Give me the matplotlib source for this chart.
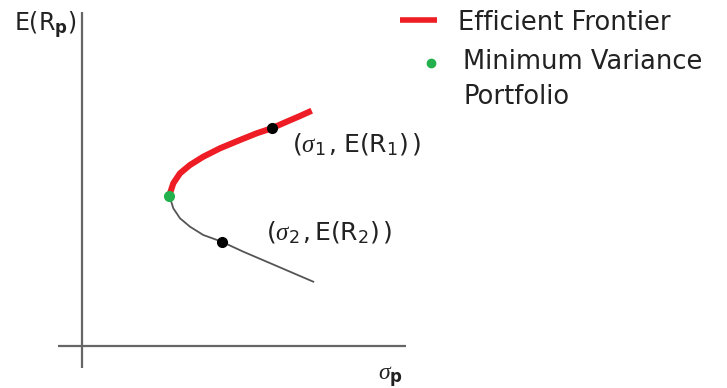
import matplotlib.pyplot as plt

plt.rcParams['font.family'] = ['DejaVu Sans']
plt.rcParams['mathtext.fontset'] = 'custom'
plt.rcParams['mathtext.rm'] = 'DejaVu Sans'
plt.rcParams['mathtext.it'] = 'Liberation Serif:italic'
plt.rcParams['mathtext.bf'] = 'DejaVu Sans:bold'

# efficient frontier (upper branch) and the inefficient lower branch
upper_sigma = [8.73, 9.13, 9.8, 10.8, 12.13, 13.8, 15.8, 17.47, 18.97, 20.47, 21.8, 22.97]
upper_ret = [15.05, 16.27, 17.27, 18.1, 18.93, 19.77, 20.6, 21.27, 21.77, 22.43, 23.0, 23.53]
lower_sigma = [8.73, 9.13, 9.8, 10.8, 12.13, 13.97, 16.13, 18.47, 20.8, 23.13]
lower_ret = [15.05, 13.77, 12.77, 11.93, 11.1, 10.43, 9.43, 8.43, 7.43, 6.43]

mvp = (8.73, 15.05)
port1 = (18.97, 21.77)
port2 = (13.97, 10.43)

RED = '#ee1c24'
GREEN = '#22b14c'
AXIS = '#666666'
TXT = '#222222'

fig = plt.figure(figsize=(7.27, 3.88), dpi=100)
ax = fig.add_axes([0, 0, 1, 1])
ax.set_xlim(-8.2, 64.5)
ax.set_ylim(-4.2, 34.6)
ax.axis('off')

# hand-drawn style axes
ax.plot([-2.4, 32.4], [0, 0], color=AXIS, lw=1.6, solid_capstyle='butt')
ax.plot([0, 0], [-2.2, 33.4], color=AXIS, lw=1.6, solid_capstyle='butt')

ax.plot(lower_sigma, lower_ret, color='#555555', lw=1.3, solid_joinstyle='round')
ax.plot(upper_sigma, upper_ret, color=RED, lw=4.4, solid_capstyle='butt',
        solid_joinstyle='round')
ax.plot(*mvp, 'o', color=GREEN, ms=7, zorder=5)
ax.plot(*port1, 'o', color='black', ms=7, zorder=5)
ax.plot(*port2, 'o', color='black', ms=7, zorder=5)

fs = 18.5
ax.text(-6.8, 31.5, r'E(R$_\mathbf{p}$)', fontsize=17, color=TXT)
ax.text(29.6, -3.4, r'$\sigma_\mathbf{p}$', fontsize=17, color=TXT)
ax.text(21.0, 19.4, r'$(\sigma_1\,,\,\mathrm{E}(\mathrm{R}_1)\,)$', fontsize=18, color=TXT)
ax.text(18.4, 10.6, r'$(\sigma_2\,,\mathrm{E}(\mathrm{R}_2)\,)$', fontsize=18, color=TXT)

# legend
ax.plot([31.8, 35.5], [32.6, 32.6], color=RED, lw=4, solid_capstyle='butt')
ax.plot(34.9, 28.3, 'o', color=GREEN, ms=6)
ax.text(37.6, 31.6, 'Efficient Frontier', fontsize=fs, color=TXT)
ax.text(38.1, 27.7, 'Minimum Variance', fontsize=fs, color=TXT)
ax.text(38.1, 24.2, 'Portfolio', fontsize=fs, color=TXT)

fig.savefig('out.png', dpi=100)
